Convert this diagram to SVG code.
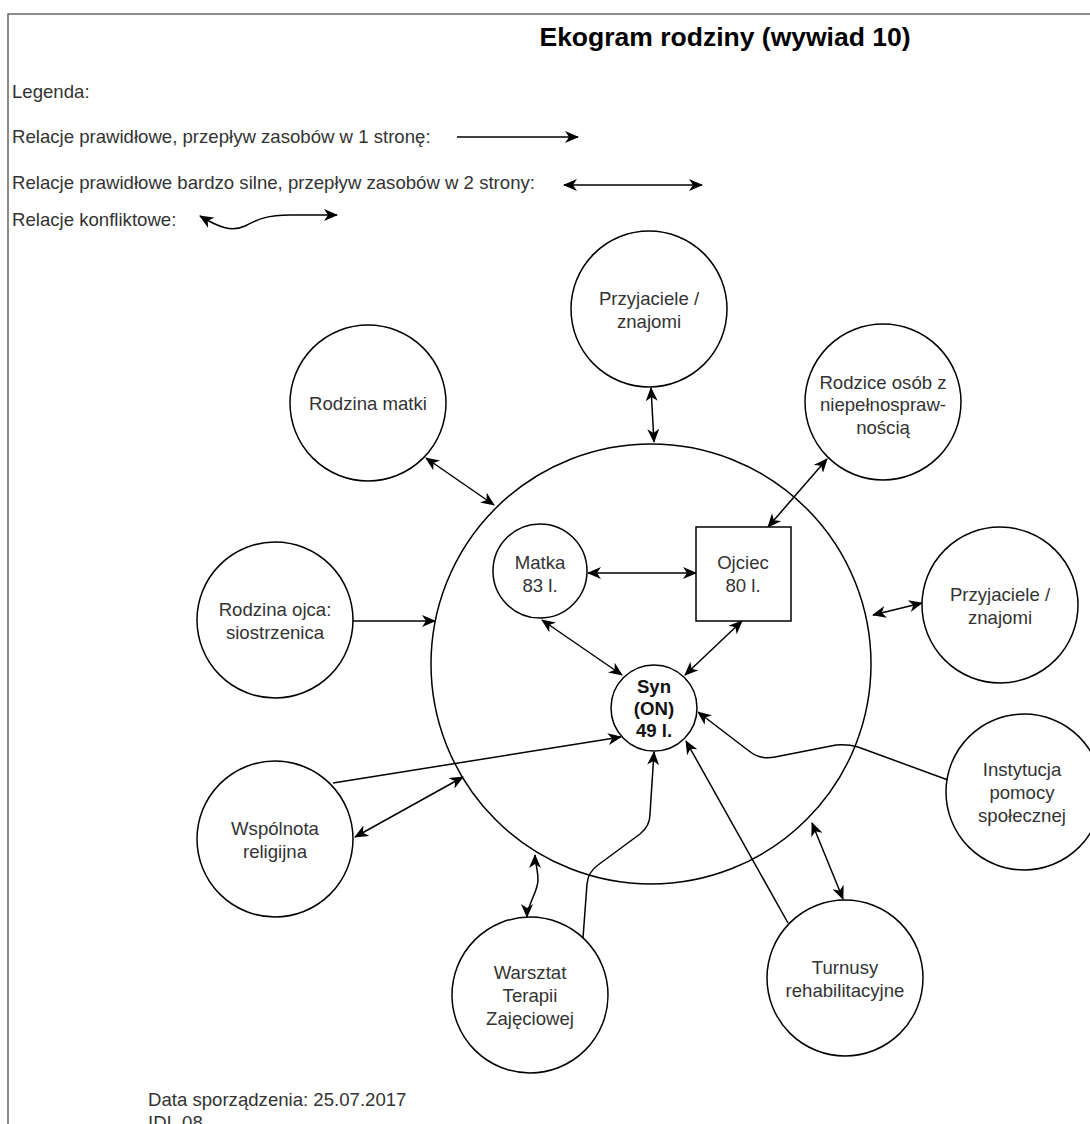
<svg xmlns="http://www.w3.org/2000/svg" width="1090" height="1124" viewBox="0 0 1090 1124">
  <style>
    .frame { fill: none; stroke: #666; stroke-width: 1.5; }
    .node { fill: #fff; stroke: #000; stroke-width: 1.5; }
    .ring { fill: none; stroke: #000; stroke-width: 1.5; }
    .lbl { font-family: "Liberation Sans", Arial, Helvetica, sans-serif; font-size: 18.6px; fill: #333; text-anchor: middle; }
    .bold { font-weight: bold; fill: #111; }
    .txt { font-family: "Liberation Sans", Arial, Helvetica, sans-serif; font-size: 18.6px; fill: #333; }
    .title { font-family: "Liberation Sans", Arial, Helvetica, sans-serif; font-size: 26.5px; font-weight: bold; fill: #000; text-anchor: middle; }
    .edge { fill: none; stroke: #000; stroke-width: 1.5; }
    .one { marker-end: url(#arrow); }
    .two { marker-start: url(#arrow); marker-end: url(#arrow); }
  </style>
  <defs>
    <marker id="arrow" viewBox="0 0 14 12" refX="13" refY="6" markerWidth="14" markerHeight="12" markerUnits="userSpaceOnUse" orient="auto-start-reverse">
      <path d="M0,0 L14,6 L0,12 L4,6 Z" fill="#000"/>
    </marker>
  </defs>

  <rect width="1090" height="1124" fill="#fff"/>

  <!-- page frame -->
  <path class="frame" d="M8,1124 L8,14 L1090,14"/>

  <text class="title" x="725" y="46">Ekogram rodziny (wywiad 10)</text>

  <!-- legend -->
  <g id="legend">
    <text class="txt" x="12" y="98">Legenda:</text>
    <text class="txt" x="12" y="143">Relacje prawidłowe, przepływ zasobów w 1 stronę:</text>
    <text class="txt" x="12" y="189">Relacje prawidłowe bardzo silne, przepływ zasobów w 2 strony:</text>
    <text class="txt" x="12" y="226">Relacje konfliktowe:</text>
    <path class="edge one" d="M457,137 L578,137"/>
    <path class="edge two" d="M564,185 L702,185"/>
    <path class="edge two" d="M200,216 C220,228 232,232 245,226 C258,219 268,215 290,215 L337,215"/>
  </g>

  <!-- household circle -->
  <g id="household">
    <circle class="ring" cx="651" cy="664" r="220"/>
  </g>

  <!-- connectors -->
  <g id="connectors">
    <path class="edge two" d="M651,388 L654,442"/>
    <path class="edge two" d="M426,458 L494,505"/>
    <path class="edge two" d="M827,459 L768,527"/>
    <path class="edge one" d="M353,621 L435,621"/>
    <path class="edge two" d="M873,615 L922,603"/>
    <path class="edge two" d="M588,573 L696,573"/>
    <path class="edge two" d="M542,620 L622,675"/>
    <path class="edge two" d="M742,621 L685,675"/>
    <path class="edge one" d="M333,783 L621,737"/>
    <path class="edge two" d="M355,837 L463,777"/>
    <path class="edge two" d="M527,917 C527,905 538,892 538,880 C538,870 535,862 535,855"/>
    <path class="edge one" d="M583,938 L587,884 Q588,872 598,865 L640,834 Q650,826 650,814 L654,752"/>
    <path class="edge one" d="M788,923 L686,741"/>
    <path class="edge two" d="M843,899 L812,823"/>
    <path class="edge one" d="M948,780 L858,747 Q848,744 836,745 L775,757 Q760,760 749,751 L698,712"/>
  </g>

  <!-- nodes -->
  <g id="przyjaciele-top">
    <circle class="node" cx="649" cy="309" r="78"/>
    <text class="lbl" x="649" y="305">Przyjaciele /</text>
    <text class="lbl" x="649" y="328">znajomi</text>
  </g>
  <g id="rodzina-matki">
    <circle class="node" cx="368" cy="403" r="78"/>
    <text class="lbl" x="368" y="410">Rodzina matki</text>
  </g>
  <g id="rodzice-osob">
    <circle class="node" cx="883" cy="402" r="78"/>
    <text class="lbl" x="883" y="389">Rodzice osób z</text>
    <text class="lbl" x="883" y="411">niepełnospraw-</text>
    <text class="lbl" x="883" y="434">nością</text>
  </g>
  <g id="rodzina-ojca">
    <circle class="node" cx="275" cy="620" r="78"/>
    <text class="lbl" x="275" y="616">Rodzina ojca:</text>
    <text class="lbl" x="275" y="639">siostrzenica</text>
  </g>
  <g id="przyjaciele-right">
    <circle class="node" cx="1000" cy="605" r="78"/>
    <text class="lbl" x="1000" y="601">Przyjaciele /</text>
    <text class="lbl" x="1000" y="624">znajomi</text>
  </g>
  <g id="instytucja">
    <circle class="node" cx="1024" cy="792" r="78"/>
    <text class="lbl" x="1022" y="776">Instytucja</text>
    <text class="lbl" x="1022" y="799">pomocy</text>
    <text class="lbl" x="1022" y="822">społecznej</text>
  </g>
  <g id="wspolnota">
    <circle class="node" cx="275" cy="839" r="78"/>
    <text class="lbl" x="275" y="835">Wspólnota</text>
    <text class="lbl" x="275" y="858">religijna</text>
  </g>
  <g id="warsztat">
    <circle class="node" cx="530" cy="995" r="78"/>
    <text class="lbl" x="530" y="979">Warsztat</text>
    <text class="lbl" x="530" y="1002">Terapii</text>
    <text class="lbl" x="530" y="1025">Zajęciowej</text>
  </g>
  <g id="turnusy">
    <circle class="node" cx="845" cy="978" r="78"/>
    <text class="lbl" x="845" y="974">Turnusy</text>
    <text class="lbl" x="845" y="997">rehabilitacyjne</text>
  </g>
  <g id="matka">
    <circle class="node" cx="540" cy="571" r="47"/>
    <text class="lbl" x="540" y="569">Matka</text>
    <text class="lbl" x="540" y="592">83 l.</text>
  </g>
  <g id="ojciec">
    <rect class="node" x="696" y="527" width="95" height="94"/>
    <text class="lbl" x="743" y="569">Ojciec</text>
    <text class="lbl" x="743" y="592">80 l.</text>
  </g>
  <g id="syn">
    <circle class="node" cx="654" cy="708" r="43"/>
    <text class="lbl bold" x="654" y="693">Syn</text>
    <text class="lbl bold" x="654" y="715">(ON)</text>
    <text class="lbl bold" x="654" y="737">49 l.</text>
  </g>

  <!-- footer -->
  <text class="txt" x="148" y="1106">Data sporządzenia: 25.07.2017</text>
  <text class="txt" x="148" y="1129">IDI_08</text>
</svg>
